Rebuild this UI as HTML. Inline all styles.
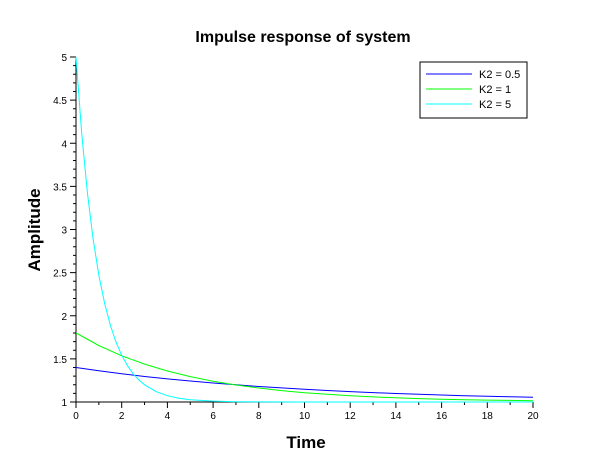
<!DOCTYPE html>
<html><head><meta charset="utf-8"><style>
html,body{margin:0;padding:0;background:#fff;}
svg{display:block;font-family:"Liberation Sans",sans-serif;}
</style></head><body>
<svg id="chart" width="610" height="460">
<rect width="610" height="460" fill="#fff"/>
<text x="303" y="42" font-size="16" font-weight="bold" text-anchor="middle">Impulse response of system</text>
<text x="306" y="448" font-size="17" font-weight="bold" text-anchor="middle">Time</text>
<text transform="translate(40,230) rotate(-90)" font-size="17" font-weight="bold" text-anchor="middle">Amplitude</text>
<g id="axes"></g>
<g id="series"></g>
<g>
<rect x="420" y="62" width="107" height="56" fill="#fff" stroke="#000" stroke-width="1"/>
<line x1="426" y1="74" x2="472" y2="74" stroke="#0000ff"/>
<text x="479" y="78" font-size="11">K2 = 0.5</text>
<line x1="426" y1="89" x2="472" y2="89" stroke="#00ff00"/>
<text x="479" y="93" font-size="11">K2 = 1</text>
<line x1="426" y1="104" x2="472" y2="104" stroke="#00ffff"/>
<text x="479" y="108" font-size="11">K2 = 5</text>
</g>
</svg>
<script>
const tInt = [0,1,2,3,4,5,6,7,8,9,10,11,12,13,14,15,16,17,18,19,20];
const blueVals = [1.4,1.362,1.327,1.296,1.268,1.243,1.220,1.199,1.180,1.163,1.147,1.133,1.120,1.109,1.099,1.089,1.081,1.073,1.066,1.060,1.054];
const greenVals = [1.8,1.655,1.536,1.439,1.359,1.294,1.241,1.197,1.162,1.132,1.108,1.089,1.073,1.059,1.049,1.040,1.033,1.027,1.022,1.018,1.015];
const cyanT = [0,0.25,0.5,0.75,1,1.25,1.5,1.75,2,2.25,2.5,2.75,3,3.5,4,4.5,5,6,7,8,10,20];
const cyanVals = [5,4.115,3.426,2.890,2.472,2.146,1.893,1.695,1.541,1.422,1.328,1.256,1.199,1.121,1.073,1.044,1.027,1.010,1.004,1.001,1.0,1.0];
const xTicks = [0,2,4,6,8,10,12,14,16,18,20];
const yTicks = [1,1.5,2,2.5,3,3.5,4,4.5,5];
const yTickLabels = ["1","1.5","2","2.5","3","3.5","4","4.5","5"];

const X0=76,X1=533,Y0=402,Y1=57;
const xs=v=>X0+(v-0)/(20-0)*(X1-X0);
const ys=v=>Y0-(v-1)/(5-1)*(Y0-Y1);
const NS='http://www.w3.org/2000/svg';
function mk(tag,attrs,parent){const e=document.createElementNS(NS,tag);for(const k in attrs)e.setAttribute(k,attrs[k]);parent.appendChild(e);return e;}
const ax=document.getElementById('axes');
let l=mk('line',{x1:X0,y1:Y0,x2:X1,y2:Y0,stroke:'#000'},ax);


l=mk('line',{x1:X0,y1:Y0,x2:X0,y2:Y1,stroke:'#000'},ax);


for(let v=0;v<=20;v+=1){const major=v%2===0;mk('line',{x1:xs(v),y1:Y0,x2:xs(v),y2:Y0+(major?6:3),stroke:'#000'},ax);}
xTicks.forEach(v=>{const t=mk('text',{x:xs(v),y:Y0+17,'font-size':10,'text-anchor':'middle'},ax);t.textContent=String(v);

});
for(let i=0;i<=40;i++){const v=1+i*0.1;const major=i%5===0;mk('line',{x1:X0,y1:ys(v),x2:X0-(major?6:3),y2:ys(v),stroke:'#000'},ax);}
yTicks.forEach((v,i)=>{const t=mk('text',{x:X0-9,y:ys(v)+4,'font-size':10,'text-anchor':'end'},ax);t.textContent=yTickLabels[i];

});
const sg=document.getElementById('series');
function line(tv,vals,color,name){const d=tv.map((t,i)=>(i?'L':'M')+xs(t).toFixed(1)+','+ys(vals[i]).toFixed(1)).join(' ');
const p=mk('path',{d:d,fill:'none',stroke:color,'stroke-width':1},sg);

}
line(tInt,blueVals,'#0000ff','series-k2-0.5');
line(tInt,greenVals,'#00ff00','series-k2-1');
line(cyanT,cyanVals,'#00ffff','series-k2-5');
</script>
</body></html>
